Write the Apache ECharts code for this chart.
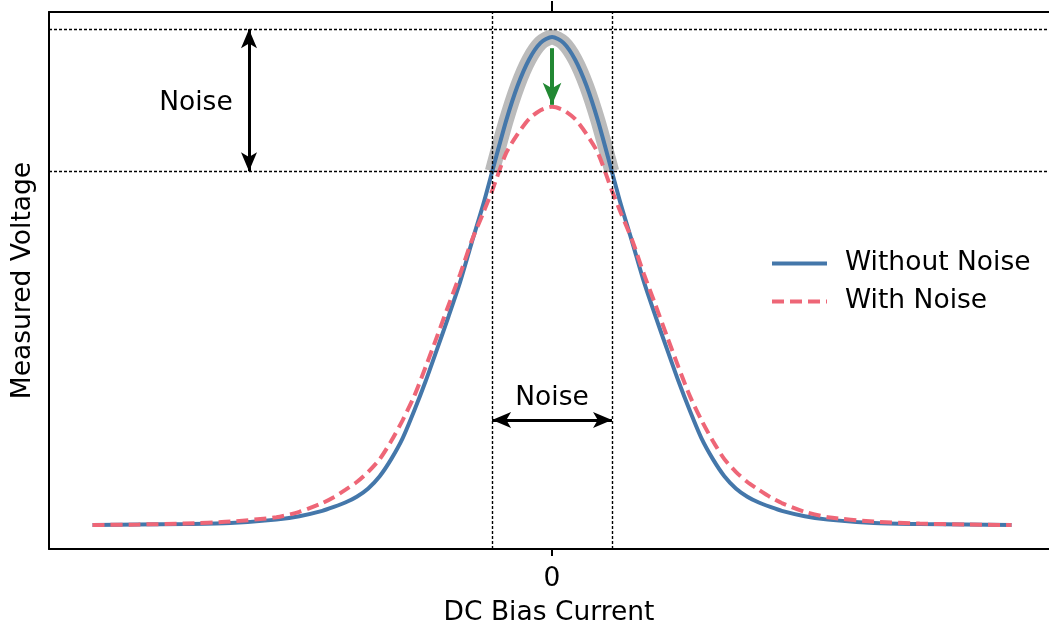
<!DOCTYPE html>
<html>
<head>
<meta charset="utf-8">
<script src="https://cdn.jsdelivr.net/npm/echarts@6/dist/echarts.min.js"></script>
<style>html,body{margin:0;padding:0;background:#fff;}#chart{width:1049px;height:632px;}</style>
</head>
<body>
<div id="chart"></div>
<script>
// ---- data ----
const xValues = [-4.0,-3.6,-3.2,-2.8,-2.4,-2.2,-2.0,-1.9,-1.8,-1.7,-1.6,-1.5,-1.4,-1.3,-1.2,-1.1,-1.0,-0.9,-0.8,-0.7,-0.6,-0.52,-0.4,-0.3,-0.2,-0.1,0,
                 0.1,0.2,0.3,0.4,0.52,0.6,0.7,0.8,0.9,1.0,1.1,1.2,1.3,1.4,1.5,1.6,1.7,1.8,1.9,2.0,2.2,2.4,2.8,3.2,3.6,4.0];
const withoutNoise = [0,0.001,0.002,0.004,0.011,0.018,0.029,0.037,0.046,0.058,0.075,0.100,0.135,0.178,0.234,0.295,0.361,0.428,0.498,0.578,0.656,0.725,0.828,0.900,0.954,0.988,1.000,
                      0.988,0.954,0.900,0.828,0.725,0.656,0.578,0.498,0.428,0.361,0.295,0.234,0.178,0.135,0.100,0.075,0.058,0.046,0.037,0.029,0.018,0.011,0.004,0.002,0.001,0];
const withNoise = [0,0.001,0.003,0.007,0.016,0.027,0.045,0.057,0.072,0.088,0.109,0.135,0.172,0.215,0.264,0.324,0.387,0.451,0.514,0.582,0.639,0.686,0.762,0.801,0.832,0.850,0.857,
                   0.850,0.832,0.801,0.762,0.686,0.639,0.582,0.514,0.451,0.387,0.324,0.264,0.215,0.172,0.135,0.109,0.088,0.072,0.057,0.045,0.027,0.016,0.007,0.003,0.001,0];
const seriesNames = ['Without Noise', 'With Noise'];
const xTickValues = [0];
const xTickLabels = ['0'];
const noiseBandX = [-0.522, 0.522];
const noiseBandY = [0.725, 1.016];
const verticalArrowX = -2.638;
const horizontalArrowY = 0.215;
const dropArrowY = [0.977, 0.861];
const noiseTextLeft = [-3.1, 0.865];
const noiseTextBottom = [0, 0.26];
const xRange = [-4.379, 4.326];
const yRange = [-0.0492, 1.0512];

const FONT = 'DejaVu Sans';
const FS = 26.5;
const BLUE = '#4477AA', RED = '#EE6677', GREEN = '#228833', GRAY = '#BBBBBB';

const bluePts = xValues.map((x, i) => [x, withoutNoise[i]]);
const redPts = xValues.map((x, i) => [x, withNoise[i]]);
const bandPts = bluePts.filter(p => p[0] >= noiseBandX[0] - 0.01 && p[0] <= noiseBandX[1] + 0.01);

const chart = echarts.init(document.getElementById('chart'), null, {renderer: 'canvas'});
const dotted = {color: '#000', width: 1.4, type: [3, 2]};
const arrowLine = {color: '#000', width: 3, type: 'solid'};

chart.setOption({
  animation: false,
  backgroundColor: '#fff',
  textStyle: {fontFamily: FONT},
  grid: {left: 49, right: 0, top: 12, bottom: 83},
  legend: {
    data: seriesNames,
    orient: 'vertical',
    left: 765, top: 245,
    itemWidth: 55, itemHeight: 16, itemGap: 11,
    itemStyle: {opacity: 0, borderWidth: 0},
    lineStyle: {width: 4},
    textStyle: {fontFamily: FONT, fontSize: FS, color: '#000', padding: [0, 0, 0, 13]}
  },
  xAxis: [{
    type: 'value', min: xRange[0], max: xRange[1], position: 'bottom',
    name: 'DC Bias Current', nameLocation: 'middle', nameGap: 51,
    nameTextStyle: {fontFamily: FONT, fontSize: FS, color: '#000'},
    axisLine: {show: true, onZero: false, lineStyle: {color: '#000', width: 2}},
    axisTick: {show: true, customValues: xTickValues, length: 7, lineStyle: {color: '#000', width: 2}},
    axisLabel: {show: true, customValues: xTickValues, formatter: v => xTickLabels[xTickValues.indexOf(v)] ?? '', margin: 17, fontFamily: FONT, fontSize: FS, color: '#000'},
    splitLine: {show: false}
  }, {
    type: 'value', min: xRange[0], max: xRange[1], position: 'top',
    axisLine: {show: true, onZero: false, lineStyle: {color: '#000', width: 2}},
    axisTick: {show: true, customValues: xTickValues, length: 11, lineStyle: {color: '#000', width: 2}},
    axisLabel: {show: false},
    splitLine: {show: false}
  }],
  yAxis: {
    type: 'value', min: yRange[0], max: yRange[1],
    name: 'Measured Voltage', nameLocation: 'middle', nameGap: 12,
    nameTextStyle: {fontFamily: FONT, fontSize: FS, color: '#000'},
    axisLine: {show: true, onZero: false, lineStyle: {color: '#000', width: 2}},
    axisTick: {show: false}, axisLabel: {show: false}, splitLine: {show: false}
  },
  series: [
    {
      name: 'band', type: 'line', data: bandPts, smooth: 0.25, symbol: 'none', silent: true, z: 1,
      lineStyle: {color: GRAY, width: 15, cap: 'butt', join: 'round'}
    },
    {
      name: seriesNames[0], type: 'line', data: bluePts, smooth: 0.25, symbol: 'none', z: 3,
      color: BLUE, lineStyle: {color: BLUE, width: 4}
    },
    {
      name: seriesNames[1], type: 'line', data: redPts, smooth: 0.25, symbol: 'none', z: 4,
      color: RED, lineStyle: {color: RED, width: 4, type: [12, 6]}
    },
    {
      name: 'guides', type: 'line', data: [], symbol: 'none', silent: true, z: 5,
      markLine: {
        silent: true, symbol: 'none', animation: false, precision: 4,
        label: {show: false}, emphasis: {disabled: true},
        lineStyle: dotted,
        data: [
          {yAxis: noiseBandY[0]}, {yAxis: noiseBandY[1]},
          {xAxis: noiseBandX[0]}, {xAxis: noiseBandX[1]}
        ]
      }
    },
    {
      name: 'annotations', type: 'scatter', data: [
        {value: noiseTextLeft}, {value: noiseTextBottom}
      ],
      symbolSize: 1, silent: true, z: 6,
      itemStyle: {opacity: 0},
      label: {show: true, position: 'inside', formatter: 'Noise', fontFamily: FONT, fontSize: FS, color: '#000', opacity: 1},
      markLine: {
        silent: true, animation: false, precision: 4,
        label: {show: false}, emphasis: {disabled: true},
        data: [
          [{coord: [verticalArrowX, noiseBandY[1]], symbol: 'arrow', symbolSize: [12, 19], lineStyle: arrowLine},
           {coord: [verticalArrowX, noiseBandY[0]], symbol: 'arrow', symbolSize: [12, 19]}],
          [{coord: [noiseBandX[0], horizontalArrowY], symbol: 'arrow', symbolSize: [12, 19], lineStyle: arrowLine},
           {coord: [noiseBandX[1], horizontalArrowY], symbol: 'arrow', symbolSize: [12, 19]}],
          [{coord: [0, dropArrowY[0]], symbol: 'none', lineStyle: {color: GREEN, width: 4, type: 'solid'}},
           {coord: [0, dropArrowY[1]], symbol: 'arrow', symbolSize: [14, 22]}]
        ]
      }
    }
  ]
});
</script>
</body>
</html>
